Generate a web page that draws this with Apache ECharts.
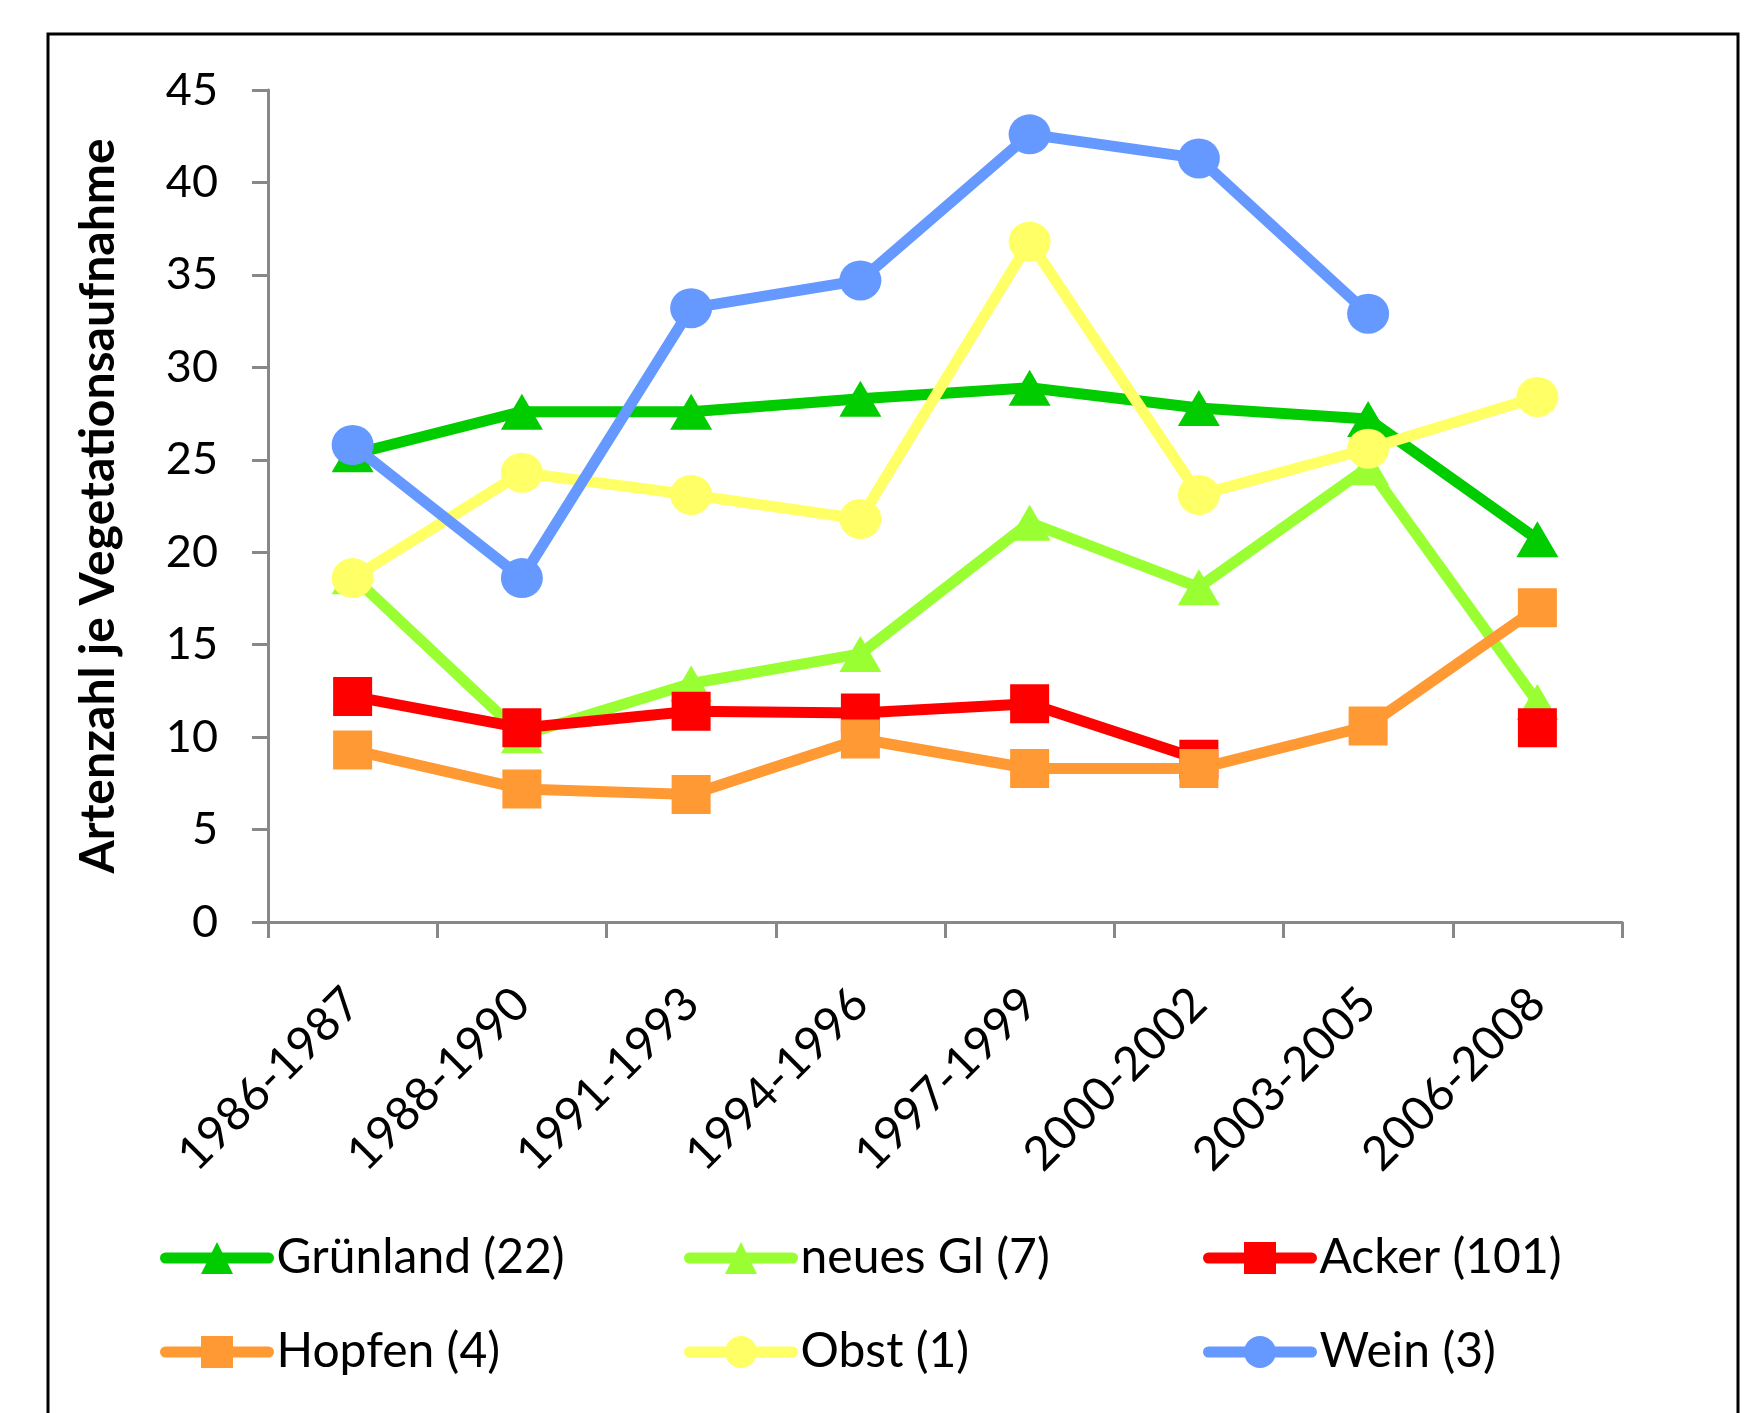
<!DOCTYPE html>
<html>
<head>
<meta charset="utf-8">
<script src="https://cdn.jsdelivr.net/npm/echarts@6/dist/echarts.min.js"></script>
<style>
html,body{margin:0;padding:0;background:#fff;}
#main{width:1758px;height:1413px;}
</style>
</head>
<body>
<div id="main"></div>
<script>
const categories = ['1986-1987','1988-1990','1991-1993','1994-1996','1997-1999','2000-2002','2003-2005','2006-2008'];
const gruenland = [25.3, 27.6, 27.6, 28.3, 28.9, 27.8, 27.2, 20.7];
const neuesGl   = [18.7, 10.1, 12.9, 14.5, 21.6, 18.1, 24.6, 11.9];
const acker     = [12.2, 10.5, 11.4, 11.3, 11.8, 8.8, null, 10.5];
const hopfen    = [9.3, 7.2, 6.9, 9.9, 8.3, 8.3, 10.6, 17.0];
const obst      = [18.6, 24.3, 23.1, 21.8, 36.8, 23.1, 25.6, 28.4];
const wein      = [25.8, 18.6, 33.2, 34.7, 42.6, 41.3, 32.9, null];
const yTicks = {min: 0, max: 45, step: 5};
const seriesNames = ['Grünland (22)','neues Gl (7)','Acker (101)','Hopfen (4)','Obst (1)','Wein (3)'];

const FONT = 'Lato';
const colors = ['#00CC00','#99FF33','#FF0000','#FF9933','#FFFF66','#6699FF'];
const symbols = ['triangle','triangle','rect','rect','circle','circle'];
const symSizes = [[42,36],[42,36],[39,39],[39,39],[42,40],[42,40]];
const datas = [gruenland, neuesGl, acker, hopfen, obst, wein];

const series = seriesNames.map((n,i)=>({
  name: n,
  type: 'line',
  data: datas[i],
  connectNulls: false,
  symbol: symbols[i],
  symbolSize: symSizes[i],
  showSymbol: true,
  showAllSymbol: true,
  lineStyle: {color: colors[i], width: 11, cap: 'round', join: 'round'},
  itemStyle: {color: colors[i]},
  z: 2 + i,
  animation: false
}));

const colLeft = [160, 684, 1203];
const rowTop = [1234, 1328];
const legends = seriesNames.map((n,i)=>({
  data: [n],
  left: colLeft[i % 3],
  top: rowTop[Math.floor(i / 3)],
  padding: 0,
  itemWidth: 103,
  itemHeight: 40,
  itemGap: 0,
  selectedMode: false,
  lineStyle: {width: 11, cap: 'round'},
  textStyle: {fontFamily: FONT, fontSize: 48, color: '#000', padding: [0,0,0,3]}
}));

const chart = echarts.init(document.getElementById('main'), null, {renderer: 'canvas'});
chart.setOption({
  animation: false,
  backgroundColor: '#fff',
  graphic: [{
    type: 'rect',
    shape: {x: 48, y: 34, width: 1690, height: 1500},
    style: {fill: 'none', stroke: '#000', lineWidth: 3},
    silent: true
  }],
  grid: {left: 268, right: 136, top: 90, bottom: 491},
  legend: legends,
  xAxis: {
    type: 'category',
    data: categories,
    boundaryGap: true,
    axisLine: {lineStyle: {color: '#888', width: 3}},
    axisTick: {show: true, length: 16, lineStyle: {color: '#888', width: 3}, alignWithLabel: false},
    axisLabel: {rotate: 45, margin: 74, fontFamily: FONT, fontSize: 47, color: '#000', interval: 0}
  },
  yAxis: {
    type: 'value',
    min: yTicks.min, max: yTicks.max, interval: yTicks.step,
    name: 'Artenzahl je Vegetationsaufnahme',
    nameLocation: 'middle',
    nameGap: 145,
    nameTextStyle: {fontFamily: FONT, fontSize: 48, fontWeight: 'bold', color: '#000'},
    axisLine: {show: true, lineStyle: {color: '#888', width: 3}},
    axisTick: {show: true, length: 16, lineStyle: {color: '#888', width: 3}},
    axisLabel: {margin: 50, fontFamily: FONT, fontSize: 45, color: '#000'},
    splitLine: {show: false}
  },
  series: series
});
</script>
</body>
</html>
